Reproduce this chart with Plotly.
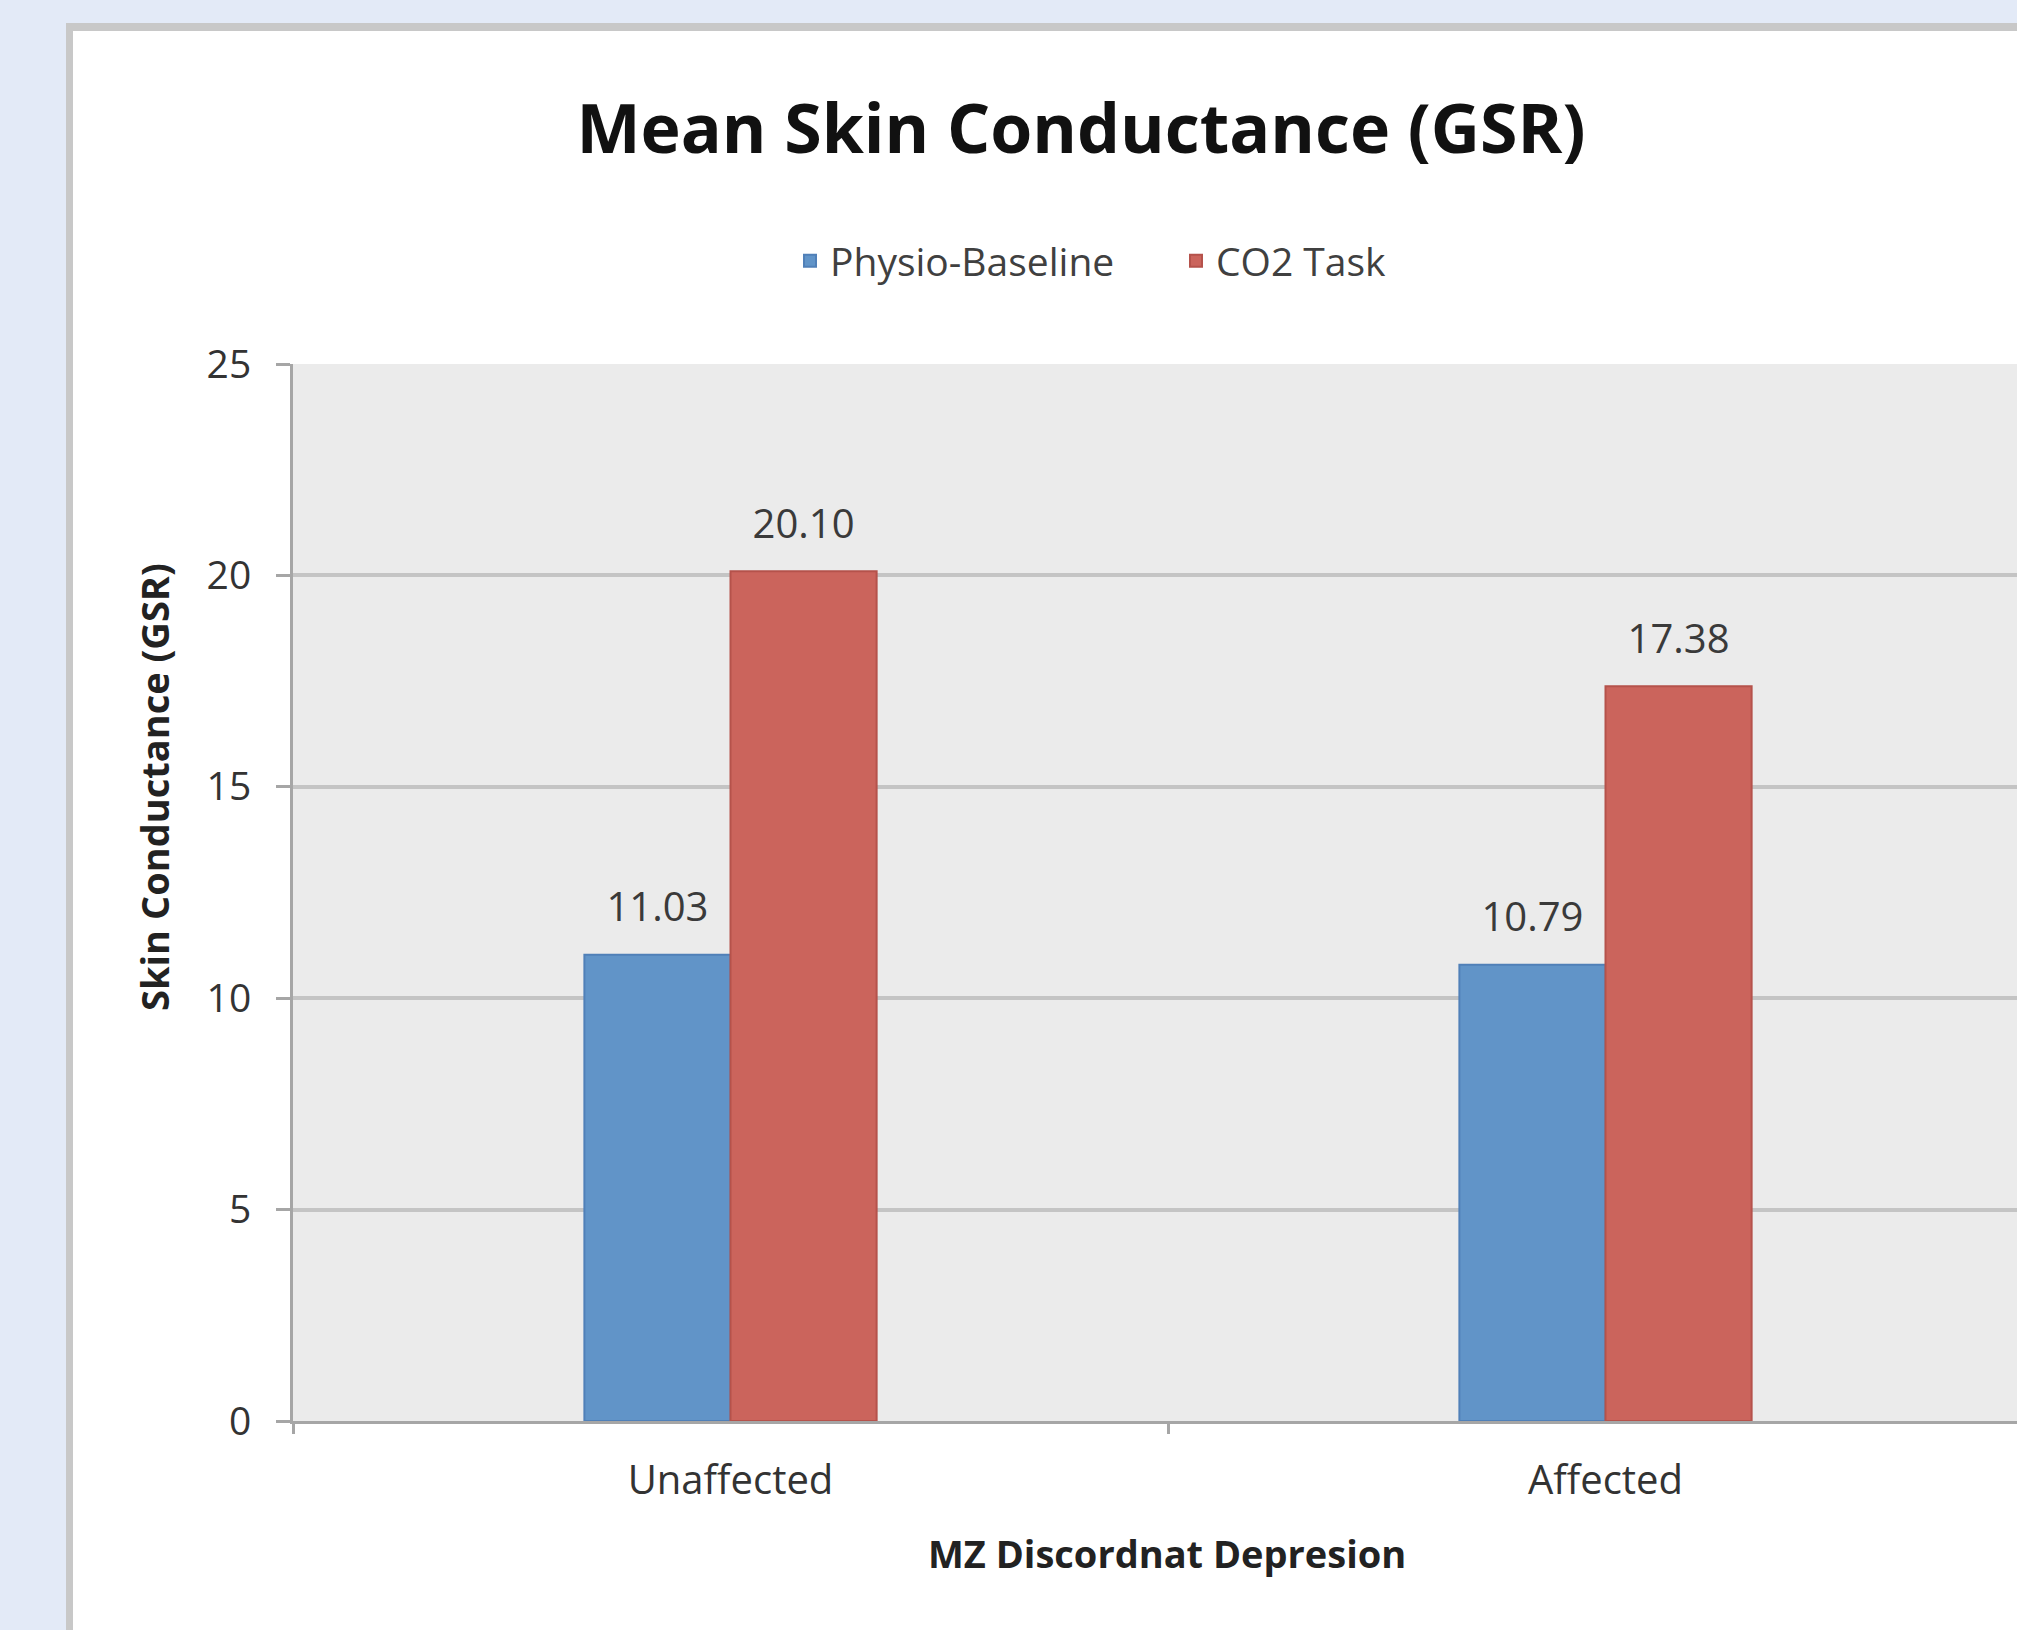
import plotly.graph_objects as go

# ---- data ----
categories = ["Unaffected", "Affected"]
baseline_values = [11.03, 10.79]
co2_values = [20.10, 17.38]
series_names = ["Physio-Baseline", "CO2 Task"]
y_ticks = [0, 5, 10, 15, 20, 25]

# ---- layout constants (pixels) ----
W, H = 2017, 1630
ML, MR, MT, MB = 293, 0, 364, 209
PW = W - ML - MR
PH = H - MT - MB
CAT_PX = 875  # pixel width of one category band


def px_x(px):
    return (px - ML) / PW


def px_y(py):
    return (H - MB - py) / PH


FONT = "Open Sans"
BLUE = "#6194c8"
RED = "#cb645c"
LABEL_FONT = dict(family=FONT, size=40, color="#3a3a3a")

fig = go.Figure()
for name, vals, color, lcolor in [
    (series_names[0], baseline_values, BLUE, "#5080b8"),
    (series_names[1], co2_values, RED, "#b5524b"),
]:
    fig.add_trace(go.Bar(
        name=name, x=categories, y=vals, offsetgroup=name,
        marker=dict(color=color, line=dict(color=lcolor, width=2)),
        hoverinfo="x+y",
    ))
# data labels (grouped to sit above each bar)
for name, vals in [(series_names[0], baseline_values), (series_names[1], co2_values)]:
    fig.add_trace(go.Scatter(
        x=categories, y=vals, mode="markers+text", offsetgroup=name,
        text=[f"{v:.2f}" for v in vals], textposition="top center",
        textfont=LABEL_FONT, marker=dict(size=36, opacity=0),
        showlegend=False, cliponaxis=False, hoverinfo="skip",
    ))

shapes = []
# light blue surround + grey frame of the chart box
shapes.append(dict(type="rect", xref="paper", yref="paper", layer="below",
                   x0=px_x(-10), x1=px_x(66), y0=px_y(H + 50), y1=px_y(-10),
                   fillcolor="#e3eaf7", line=dict(width=0)))
shapes.append(dict(type="rect", xref="paper", yref="paper", layer="below",
                   x0=px_x(-10), x1=px_x(W + 50), y0=px_y(23), y1=px_y(-10),
                   fillcolor="#e3eaf7", line=dict(width=0)))
shapes.append(dict(type="rect", xref="paper", yref="paper", layer="below",
                   x0=px_x(66), x1=px_x(73), y0=px_y(H + 50), y1=px_y(23),
                   fillcolor="#c8c8c8", line=dict(width=0)))
shapes.append(dict(type="rect", xref="paper", yref="paper", layer="below",
                   x0=px_x(66), x1=px_x(W + 50), y0=px_y(31), y1=px_y(23),
                   fillcolor="#c8c8c8", line=dict(width=0)))

annotations = [
    dict(text="<b>Skin Conductance (GSR)</b>", xref="paper", yref="paper",
         x=px_x(154), y=px_y(787), xanchor="center", yanchor="middle",
         textangle=-90, showarrow=False,
         font=dict(family=FONT, size=38, color="#222222")),
    dict(text="<b>MZ Discordnat Depresion</b>", xref="paper", yref="paper",
         x=px_x(1167), y=px_y(1553), xanchor="center", yanchor="middle",
         showarrow=False,
         font=dict(family=FONT, size=38, color="#222222")),
]

fig.update_layout(
    width=W, height=H,
    margin=dict(l=ML, r=MR, t=MT, b=MB, pad=0),
    paper_bgcolor="white",
    plot_bgcolor="#ebebeb",
    barmode="group",
    bargap=0.666,
    bargroupgap=0,
    scattermode="group",
    scattergap=0.666,
    shapes=shapes,
    annotations=annotations,
    title=dict(text="<b>Mean Skin Conductance (GSR)</b>",
               font=dict(family=FONT, size=68, color="#111111"),
               x=1081 / W, xref="container", xanchor="center",
               y=1 - 129 / H, yref="container", yanchor="middle"),
    legend=dict(orientation="h", x=px_x(790), xanchor="left",
                y=px_y(261), yanchor="middle",
                font=dict(family=FONT, size=39, color="#404040"),
                bgcolor="rgba(0,0,0,0)", entrywidth=341),
    xaxis=dict(
        range=[-0.5, -0.5 + PW / CAT_PX],
        showgrid=False, zeroline=False,
        showline=True, linecolor="#a6a6a6", linewidth=3,
        ticks="outside", tickson="boundaries", ticklen=10,
        tickcolor="#a6a6a6", tickwidth=3,
        tickfont=dict(family=FONT, size=40, color="#333333"),
        ticklabelstandoff=22,
    ),
    yaxis=dict(
        range=[0, 25], tickvals=y_ticks,
        showgrid=True, gridcolor="#c4c4c4", gridwidth=4,
        zeroline=False,
        showline=True, linecolor="#a6a6a6", linewidth=3,
        ticks="outside", ticklen=14, tickcolor="#a6a6a6", tickwidth=3,
        tickfont=dict(family=FONT, size=39, color="#333333"),
        ticklabelstandoff=17,
    ),
    showlegend=True,
)

fig.write_html(
    "out.html",
    config={"displayModeBar": False},
    post_script="document.body.style.margin='0';document.body.style.overflow='hidden';",
)
